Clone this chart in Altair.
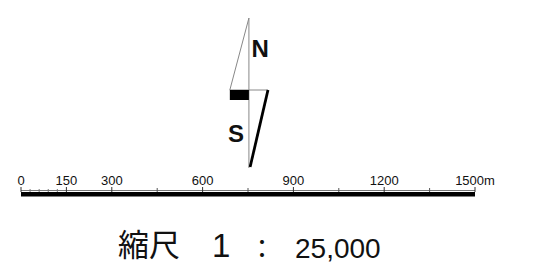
import altair as alt
import pandas as pd

# ---- data ----
major_ticks = [0, 150, 300, 600, 900, 1200, 1500]
major_labels = ["0", "150", "300", "600", "900", "1200", "1500m"]
mid_ticks = [450, 750, 1050, 1350]
minor_ticks = [30, 60, 90, 120]
bar_start = [0]
bar_end = [1500]
scale_parts = ["縮尺", "1", "：", "25,000"]

# ---- layout ----
W, H = 525, 261
k = 454 / 1500.0          # px per metre
x0 = 13                   # px of 0 m
xs = alt.Scale(domain=[-x0 / k, (W - x0) / k], nice=False, zero=False)
ys = alt.Scale(domain=[0, H], reverse=True, nice=False, zero=False)
X = lambda f: alt.X(f, type="quantitative", scale=xs, axis=None)
X2 = lambda f: alt.X2(f)
Y = lambda f: alt.Y(f, type="quantitative", scale=ys, axis=None)

bar_df = pd.DataFrame({"a": bar_start, "b": bar_end})
major_df = pd.DataFrame({"t": major_ticks, "lab": major_labels})
mid_df = pd.DataFrame({"t": mid_ticks})
minor_df = pd.DataFrame({"t": minor_ticks})

thin = alt.Chart(bar_df).mark_rule(color="#777777", strokeWidth=1).encode(
    x=X("a"), x2=X2("b"), y=alt.value(182.5))
thick = alt.Chart(bar_df).mark_rect(color="black").encode(
    x=X("a"), x2=X2("b"), y=alt.value(184), y2=alt.value(188.5))
majors = alt.Chart(major_df).mark_rule(color="#333333", strokeWidth=1).encode(
    x=X("t"), y=alt.value(179), y2=alt.value(184))
mids = alt.Chart(mid_df).mark_rule(color="#555555", strokeWidth=1).encode(
    x=X("t"), y=alt.value(180), y2=alt.value(184))
minors = alt.Chart(minor_df).mark_rule(color="#777777", strokeWidth=1).encode(
    x=X("t"), y=alt.value(181), y2=alt.value(184))
labels = alt.Chart(major_df).mark_text(
    font="Liberation Sans", fontSize=13, baseline="alphabetic", align="center",
    color="#111111").encode(x=X("t"), y=alt.value(177), text="lab:N")

# ---- north arrow (metres along the bar, pixels down) ----
cx, lx, rx = 753, 690, 816
seg_df = pd.DataFrame({
    "x": [cx, cx, lx, cx],
    "x2": [cx, lx, cx, rx],
    "y": [10, 10, 82, 82],
    "y2": [160, 82, 82, 82],
})
segs = alt.Chart(seg_df).mark_rule(color="#888888", strokeWidth=1).encode(
    x=X("x"), x2=X2("x2"), y=Y("y"), y2=alt.Y2("y2"))
wedge_df = pd.DataFrame({"x": [rx], "x2": [cx + 4], "y": [82], "y2": [159]})
wedge = alt.Chart(wedge_df).mark_rule(color="black", strokeWidth=2.8).encode(
    x=X("x"), x2=X2("x2"), y=Y("y"), y2=alt.Y2("y2"))
blk_df = pd.DataFrame({"x": [lx], "x2": [cx], "y": [82], "y2": [92]})
blk = alt.Chart(blk_df).mark_rect(color="black").encode(
    x=X("x"), x2=X2("x2"), y=Y("y"), y2=alt.Y2("y2"))
ns_df = pd.DataFrame({"x": [790, 710], "y": [49, 134], "t": ["N", "S"]})
ns = alt.Chart(ns_df).mark_text(
    font="Liberation Sans", fontWeight="bold", fontSize=24,
    baseline="alphabetic", align="center", color="#111111").encode(
    x=X("x"), y=Y("y"), text="t:N")

# ---- scale text ----
tdf = pd.DataFrame({"t": scale_parts})
t1 = alt.Chart(tdf).transform_filter(alt.datum.t == scale_parts[0]).mark_text(
    font="Noto Sans CJK JP", fontSize=31, align="left", baseline="alphabetic",
    color="#111111").encode(x=alt.value(110), y=alt.value(248), text="t:N")
t2 = alt.Chart(tdf).transform_filter(alt.datum.t == scale_parts[1]).mark_text(
    font="Liberation Sans", fontSize=33, align="left", baseline="alphabetic",
    color="#111111").encode(x=alt.value(204), y=alt.value(249), text="t:N")
t3 = alt.Chart(tdf).transform_filter(alt.datum.t == scale_parts[2]).mark_text(
    font="Noto Sans CJK JP", fontSize=26, align="center", baseline="alphabetic",
    color="#111111").encode(x=alt.value(254), y=alt.value(250), text="t:N")
t4 = alt.Chart(tdf).transform_filter(alt.datum.t == scale_parts[3]).mark_text(
    font="Liberation Sans", fontSize=28, align="left", baseline="alphabetic",
    color="#111111").encode(x=alt.value(287), y=alt.value(250), text="t:N")

chart = alt.layer(
    thin, thick, majors, mids, minors, labels,
    segs, wedge, blk, ns, t1, t2, t3, t4
).properties(
    width=W, height=H, autosize=alt.AutoSizeParams(type="none"), padding=0
).configure_view(stroke=None)

chart.save("out.html", embed_options={"renderer": "svg", "actions": False})
